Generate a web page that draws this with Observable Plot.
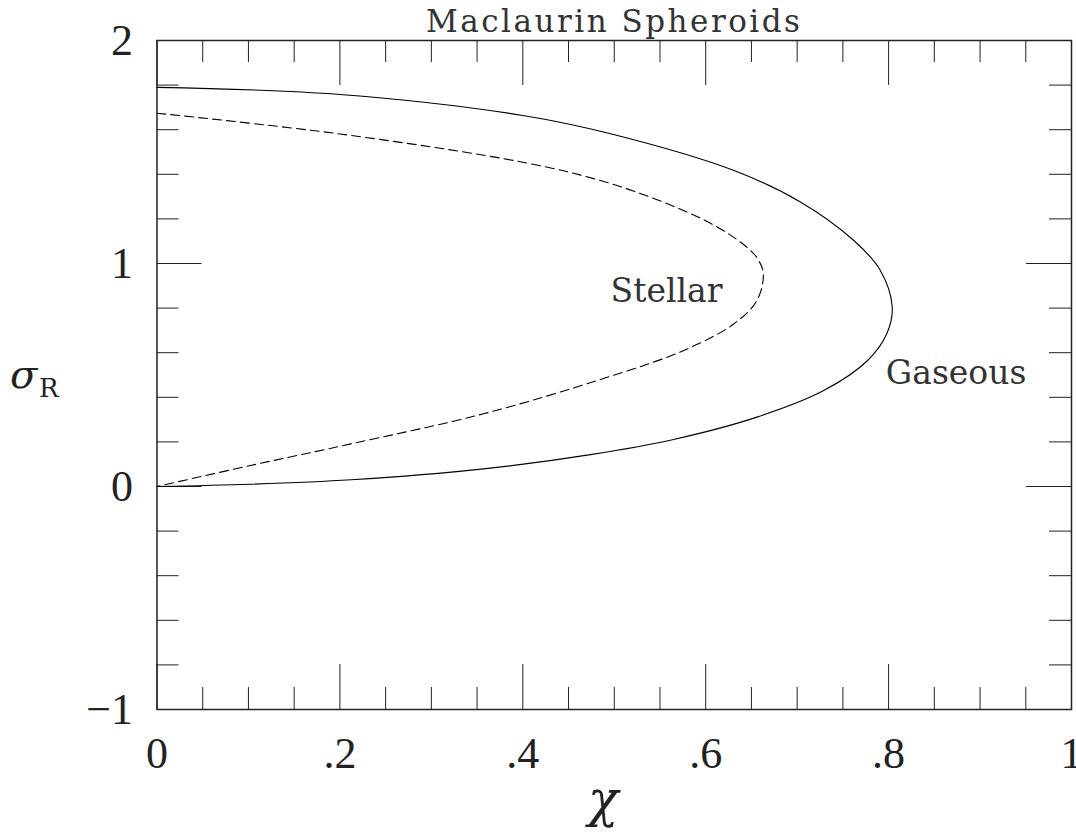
<!DOCTYPE html>
<html><head><meta charset="utf-8">
<script src="https://cdn.jsdelivr.net/npm/d3@7"></script>
<script src="https://cdn.jsdelivr.net/npm/@observablehq/plot@0.6"></script>
<style>html,body{margin:0;padding:0;background:#fff;} svg{display:block;}</style>
</head><body><div id="chart"></div>
<script>
const title = "Maclaurin Spheroids";
const xLabel = "χ";
const yLabelMain = "σ";
const yLabelSub = "R";

const gaseousX = [0, 0.2, 0.4, 0.496, 0.631, 0.704, 0.762, 0.791, 0.804, 0.798, 0.777, 0.729, 0.656, 0.565, 0.474, 0.357, 0.212, 0.102, 0];
const gaseousY = [1.790, 1.758, 1.664, 1.582, 1.417, 1.275, 1.103, 0.969, 0.804, 0.685, 0.565, 0.430, 0.311, 0.211, 0.143, 0.079, 0.030, 0.010, 0];

const stellarX = [0, 0.2, 0.4, 0.485, 0.558, 0.613, 0.645, 0.657, 0.663, 0.656, 0.631, 0.576, 0.485, 0.357, 0.212, 0.102, 0];
const stellarY = [1.674, 1.581, 1.454, 1.372, 1.268, 1.163, 1.073, 1.020, 0.954, 0.834, 0.730, 0.610, 0.480, 0.326, 0.191, 0.094, 0];

const labelText = ["Stellar", "Gaseous"];
const labelX = [0.496, 0.797];
const labelY = [0.873, 0.505];

const xMajorTicks = [0, 0.2, 0.4, 0.6, 0.8, 1];
const xTickLabels = ["0", ".2", ".4", ".6", ".8", "1"];
const xMinorTicks = [0.05, 0.1, 0.15, 0.25, 0.3, 0.35, 0.45, 0.5, 0.55, 0.65, 0.7, 0.75, 0.85, 0.9, 0.95];
const yMajorTicks = [-1, 0, 1, 2];
const yTickLabels = ["−1", "0", "1", "2"];
const yMinorTicks = [-0.8, -0.6, -0.4, -0.2, 0.2, 0.4, 0.6, 0.8, 1.2, 1.4, 1.6, 1.8];

const W = 1076, H = 833;
const mL = 156.5, mR = 5, mT = 40, mB = 124;
const PW = W - mL - mR, PH = H - mT - mB;
const minorLen = 22, majorLen = 45;
const ink = "#222";

const gaseous = gaseousX.map((x, i) => ({x, y: gaseousY[i]}));
const stellar = stellarX.map((x, i) => ({x, y: stellarY[i]}));
const labels = labelText.map((t, i) => ({t, x: labelX[i], y: labelY[i]}));

const chart = Plot.plot({
  width: W, height: H,
  marginLeft: mL, marginRight: mR, marginTop: mT, marginBottom: mB,
  x: {domain: [0, 1], label: null},
  y: {domain: [-1, 2], label: null},
  marks: [
    Plot.tickX(xMinorTicks, {x: d => d, insetBottom: PH - minorLen, stroke: ink, strokeWidth: 1}),
    Plot.tickX(xMajorTicks, {x: d => d, insetBottom: PH - majorLen, stroke: ink, strokeWidth: 1}),
    Plot.tickX(xMinorTicks, {x: d => d, insetTop: PH - minorLen, stroke: ink, strokeWidth: 1}),
    Plot.tickX(xMajorTicks, {x: d => d, insetTop: PH - majorLen, stroke: ink, strokeWidth: 1}),
    Plot.tickY(yMinorTicks, {y: d => d, insetRight: PW - minorLen, stroke: ink, strokeWidth: 1}),
    Plot.tickY(yMajorTicks, {y: d => d, insetRight: PW - majorLen, stroke: ink, strokeWidth: 1}),
    Plot.tickY(yMinorTicks, {y: d => d, insetLeft: PW - minorLen, stroke: ink, strokeWidth: 1}),
    Plot.tickY(yMajorTicks, {y: d => d, insetLeft: PW - majorLen, stroke: ink, strokeWidth: 1}),
    Plot.frame({stroke: ink, strokeWidth: 1.5}),
    Plot.line(gaseous, {x: "x", y: "y", curve: "catmull-rom", stroke: "#000", strokeWidth: 1.1}),
    Plot.line(stellar, {x: "x", y: "y", curve: "catmull-rom", stroke: "#000", strokeWidth: 1.1, strokeDasharray: "9,5"}),
    Plot.text(labels, {x: "x", y: "y", text: "t", textAnchor: "start", lineAnchor: "middle", fontSize: 33, fontFamily: "DejaVu Serif", fill: "#333"}),
    Plot.axisX(xMajorTicks, {tickSize: 0, tickPadding: 27, tickFormat: d => xTickLabels[xMajorTicks.indexOf(d)], fontSize: 44, fontFamily: "Liberation Serif", fill: ink, label: null}),
    Plot.axisY(yMajorTicks, {tickSize: 0, tickPadding: 24, tickFormat: d => yTickLabels[yMajorTicks.indexOf(d)], fontSize: 44, fontFamily: "Liberation Serif", fill: ink, label: null}),
    Plot.text([title], {frameAnchor: "top", lineAnchor: "middle", dy: -18, fontSize: 31, fontFamily: "DejaVu Serif", fill: "#333"}),
    Plot.text([xLabel], {frameAnchor: "bottom", lineAnchor: "middle", dx: -11, dy: 90, fontSize: 50, fontStyle: "italic", fontFamily: "DejaVu Serif", fill: ink}),
    Plot.text([yLabelMain], {frameAnchor: "left", lineAnchor: "middle", textAnchor: "start", dx: -147, dy: 0, fontSize: 40, fontStyle: "italic", fontFamily: "DejaVu Serif", fill: ink}),
    Plot.text([yLabelSub], {frameAnchor: "left", lineAnchor: "middle", textAnchor: "start", dx: -118, dy: 14, fontSize: 26, fontFamily: "DejaVu Serif", fill: ink})
  ]
});
document.getElementById("chart").appendChild(chart);
d3.select(chart).selectAll("text").filter(function() { return this.textContent === title; })
  .style("letter-spacing", "2.5px");
</script>
</body></html>
